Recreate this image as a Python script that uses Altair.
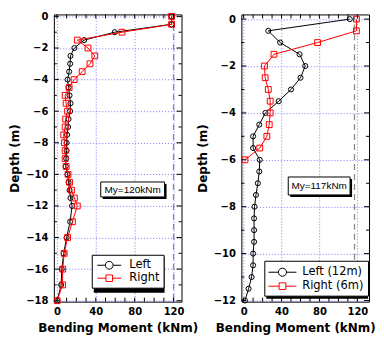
import altair as alt
import pandas as pd

# ---------------- data ----------------
depth_left_panel = [0, -0.5, -1, -1.5, -2, -2.5, -3, -3.5, -4, -4.5, -5, -5.5, -6, -6.5,
                    -7, -7.5, -8, -8.5, -9, -9.5, -10, -10.5, -11, -11.5, -12,
                    -13, -14, -15, -16, -17, -18]
moment_left_L = [118, 118, 59.5, 28, 18, 14, 13.6, 12.6, 11, 12, 13, 14, 13.6, 12,
                 11.5, 10.5, 10, 10, 9.5, 9, 11, 12, 13, 14, 15.6,
                 13.6, 10, 7, 5, 4.4, 0.3]
moment_left_R = [118, 118, 67, 21, 32, 39, 34, 26, 17.7, 12.6, 8.5, 9.5, 11, 9,
                 8.5, 7, 7.8, 8.5, 8.5, 9.5, 11.5, 13, 15, 18, 21,
                 16, 11, 7.5, 6, 5.8, 0.3]

depth_right_L = [0, -0.5, -1, -1.5, -2, -2.5, -3, -3.5, -4, -4.5, -5, -5.5, -6,
                 -6.5, -7, -7.5, -8, -8.5, -9, -9.5, -10, -10.5, -11, -11.5, -12]
moment_right_L = [112, 26, 38.5, 59, 65, 60, 50, 37, 23, 16.5, 10, 10, 17,
                  16.5, 15, 13, 11.5, 11, 11, 11, 10, 10, 8.4, 5.2, 1.4]
depth_right_R = [0, -0.5, -1, -1.5, -2, -2.5, -3, -3.5, -4, -4.5, -5, -5.5, -6]
moment_right_R = [119, 119, 78, 32, 22, 22.7, 26, 28, 28, 27, 24.5, 17, 1.4]

names_left = ["Left", "Right"]
names_right = ["Left (12m)", "Right (6m)"]
my_left = 120
my_right = 117
x_labels = [0, 40, 80, 120]


def sym_paths(rc, hs):
    circ = (f"M-2,0H{-rc}M{rc},0H2M{-rc},0A{rc},{rc},0,1,1,{rc},0"
            f"A{rc},{rc},0,1,1,{-rc},0Z")
    sq = f"M-2,0H{-hs}M{hs},0H2M{-hs},{-hs}H{hs}V{hs}H{-hs}Z"
    return [circ, sq]


def panel(series, names, my, xdom, ydom, ymin, W, H, leg, box, title_x):
    rows = []
    for name, (d, v) in zip(names, series):
        for dd, vv in zip(d, v):
            rows.append({"series": name, "depth": dd, "moment": vv})
    df = pd.DataFrame(rows)

    xs = alt.Scale(domain=xdom, nice=False, zero=False)
    ys = alt.Scale(domain=ydom, nice=False, zero=False)
    y_major = list(range(0, ymin - 1, -2))
    xax = alt.Axis(values=x_labels, title="Bending Moment (kNm)", grid=True,
                   labelPadding=5, titlePadding=6, labelOverlap=False,
                   labelBound=False, labelFlush=False, titleX=title_x)
    yax = alt.Axis(values=y_major, title="Depth (m)", grid=True, format="d",
                   labelPadding=6, titlePadding=4, labelOverlap=False,
                   labelBound=False, labelFlush=False)
    X = lambda f: alt.X(f, scale=xs, axis=xax)
    Y = lambda f: alt.Y(f, scale=ys, axis=yax)
    col = alt.Scale(domain=names, range=["black", "red"])
    lx, ly, u, rc, hs, soff, loff, lw, lh = leg
    shp = alt.Scale(domain=names, range=sym_paths(rc, hs))

    legend = alt.Legend(
        title=None, orient="none", legendX=lx, legendY=ly,
        strokeColor="black", fillColor="white", padding=4,
        labelFont="DejaVu Sans", labelFontSize=11.5, labelColor="black",
        symbolSize=(2 * u) ** 2, rowPadding=0, labelOffset=loff,
        symbolOffset=soff, symbolStrokeWidth=1, symbolOpacity=1)

    base = alt.Chart(df)
    my_line = alt.Chart(pd.DataFrame({"my": [my]})).mark_rule(
        color="#8a8a8a", strokeDash=[6, 4], strokeWidth=1.3
    ).encode(x=X("my:Q"))

    layers = [my_line]
    for name, c, shape, size in [(names[0], "black", "circle", 26),
                                 (names[1], "red", "square", 34)]:
        sub = base.transform_filter(alt.datum.series == name)
        layers.append(sub.mark_line(strokeWidth=1, color=c).encode(
            x=X("moment:Q"), y=Y("depth:Q"), order="depth:Q"))
        layers.append(sub.mark_point(filled=False, size=size, strokeWidth=1,
                                     shape=shape, color=c, opacity=1).encode(
            x=X("moment:Q"), y=Y("depth:Q")))

    # legend-only layer: its marks sit outside the plot and are clipped away
    leg_layer = base.mark_point(filled=False, strokeWidth=1, clip=True).encode(
        x=alt.value(-500), y=alt.value(-500),
        color=alt.Color("series:N", scale=col, legend=legend),
        shape=alt.Shape("series:N", scale=shp, legend=legend),
    )

    one = pd.DataFrame({"a": [0]})
    # My annotation box (with drop shadow)
    bx0, by0, bx1, by1 = box
    shadow = alt.Chart(one).mark_rect(color="black").encode(
        x=alt.value(bx0 + 2), x2=alt.value(bx1 + 2),
        y=alt.value(by0 + 2), y2=alt.value(by1 + 2))
    rect = alt.Chart(one).mark_rect(fill="white", stroke="black", strokeWidth=1).encode(
        x=alt.value(bx0), x2=alt.value(bx1), y=alt.value(by0), y2=alt.value(by1))
    txt = alt.Chart(one).mark_text(font="Liberation Sans", fontSize=10,
                                   color="black").encode(
        x=alt.value((bx0 + bx1) / 2), y=alt.value((by0 + by1) / 2 + 0.5),
        text=alt.value(f"My={my}kNm"))
    # legend shadow
    leg_shadow = alt.Chart(one).mark_rect(color="black").encode(
        x=alt.value(lx + 2), x2=alt.value(lx + lw + 2),
        y=alt.value(ly + 2), y2=alt.value(ly + lh + 2))

    # inward ticks
    xt = pd.DataFrame({"t": list(range(0, 121, 10))})
    yt = pd.DataFrame({"t": list(range(0, ymin - 1, -1))})
    yt["len"] = [5 if v % 2 == 0 else 3 for v in yt["t"]]
    tick_layers = [
        alt.Chart(xt).mark_rule(color="black", strokeWidth=1).encode(
            x=X("t:Q"), y=alt.value(H), y2=alt.value(H - 4)),
        alt.Chart(xt).mark_rule(color="black", strokeWidth=1).encode(
            x=X("t:Q"), y=alt.value(0), y2=alt.value(4)),
        alt.Chart(yt[yt["len"] == 5]).mark_rule(color="black", strokeWidth=1).encode(
            y=Y("t:Q"), x=alt.value(0), x2=alt.value(5)),
        alt.Chart(yt[yt["len"] == 3]).mark_rule(color="black", strokeWidth=1).encode(
            y=Y("t:Q"), x=alt.value(0), x2=alt.value(3)),
        alt.Chart(yt[yt["len"] == 5]).mark_rule(color="black", strokeWidth=1).encode(
            y=Y("t:Q"), x=alt.value(W), x2=alt.value(W - 5)),
        alt.Chart(yt[yt["len"] == 3]).mark_rule(color="black", strokeWidth=1).encode(
            y=Y("t:Q"), x=alt.value(W), x2=alt.value(W - 3)),
    ]

    layers += [shadow, rect, txt, leg_shadow, leg_layer] + tick_layers
    return alt.layer(*layers).properties(width=W, height=H)


W, H = 128, 288
left = panel([(depth_left_panel, moment_left_L), (depth_left_panel, moment_left_R)],
             names_left, my_left, [-3.1, 128.2], [-18.06, 0.126], -18, W, H,
             (38, 241, 6, 0.65, 0.55, 7, 13.7, 71, 36), (47, 168, 111, 183), 64)
right = panel([(depth_right_L, moment_right_L), (depth_right_R, moment_right_R)],
              names_right, my_right, [-2.4, 132.3], [-12.05, 0.2], -12, W, H,
              (23, 247, 7, 0.58, 0.48, 6.7, 12.3, 102, 36), (47, 163, 109, 181), 54)

chart = alt.hconcat(left, right, spacing=60, bounds="flush").resolve_scale(
    color="independent", shape="independent"
).properties(
    padding={"left": 0, "top": 2, "right": 0, "bottom": 0}
).configure_axis(
    labelFont="DejaVu Sans", labelFontWeight="bold", labelFontSize=10,
    labelColor="black", titleFont="DejaVu Sans", titleFontSize=12,
    titleFontWeight="bold", titleColor="black", ticks=False, domain=False,
    gridColor="#7a7aff", gridDash=[1, 2], gridWidth=1, gridOpacity=1,
    labelOverlap=False,
).configure_view(stroke="black", strokeWidth=1)

chart.save("out.html", embed_options={"renderer": "svg", "actions": False})
